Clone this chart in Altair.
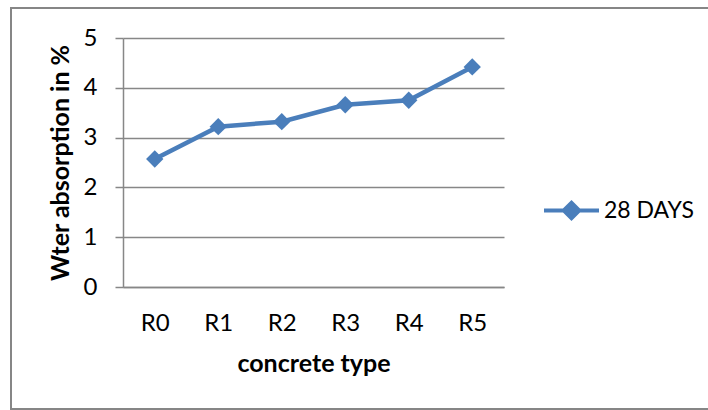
import altair as alt
import pandas as pd

# Water absorption (%) at 28 days for each concrete mix
concrete_types = ["R0", "R1", "R2", "R3", "R4", "R5"]
absorption_28d = [2.57, 3.22, 3.32, 3.66, 3.75, 4.42]
series_name = "28 DAYS"

df = pd.DataFrame({
    "type": concrete_types,
    "absorption": absorption_28d,
    "series": [series_name] * len(concrete_types),
})

BLUE = "#4a7ebb"
GRID = "#878787"
FONT = "Lato"

W, H = 381, 249

# legend glyph: a short line with a diamond in its middle
legend_symbol = "M-1,0H1M-0.28,0L0,-0.28L0.28,0L0,0.28Z"

base = alt.Chart(df).encode(
    x=alt.X(
        "type:N",
        sort=concrete_types,
        scale=alt.Scale(paddingInner=0, paddingOuter=0),
        axis=alt.Axis(
            title="concrete type",
            labelAngle=0,
            ticks=False,
            grid=False,
            domainColor=GRID,
            domainWidth=1.5,
            labelPadding=24,
            titlePadding=16,
        ),
    ),
    y=alt.Y(
        "absorption:Q",
        scale=alt.Scale(domain=[0, 5], nice=False),
        axis=alt.Axis(
            title="Wter absorption in %",
            values=[0, 1, 2, 3, 4, 5],
            format="d",
            tickSize=8,
            tickColor=GRID,
            tickWidth=1.5,
            domainColor=GRID,
            domainWidth=1.5,
            gridColor=GRID,
            gridWidth=1.5,
            labelPadding=18,
            titlePadding=10,
        ),
    ),
    color=alt.Color(
        "series:N",
        scale=alt.Scale(range=[BLUE]),
        legend=alt.Legend(
            title=None,
            orient="none",
            legendX=419,
            legendY=143,
            symbolType=legend_symbol,
            symbolSize=3025,
            symbolStrokeWidth=4,
            symbolFillColor=BLUE,
            symbolStrokeColor=BLUE,
            symbolOpacity=1,
            labelFontSize=23,
            labelFont=FONT,
            labelColor="#000000",
            labelOffset=3,
        ),
    ),
)

line = base.mark_line(strokeWidth=4.5)
points = base.mark_point(shape="diamond", filled=True, size=300, opacity=1)

# outer chart frame
frame = alt.Chart(df).mark_rect(
    fill=None, stroke=GRID, strokeWidth=1.5
).encode(
    x=alt.value(-112), x2=alt.value(600),
    y=alt.value(-30), y2=alt.value(371),
)

chart = alt.layer(frame, line, points).properties(
    width=W,
    height=H,
    padding={"left": 123, "top": 38, "right": 708 - 123 - W, "bottom": 410 - 38 - H},
    autosize=alt.AutoSizeParams(type="none"),
    background="white",
).configure_view(stroke=None).configure_axis(
    labelFont=FONT,
    labelFontSize=24,
    labelColor="#000000",
    titleFont=FONT,
    titleFontSize=25,
    titleFontWeight="bold",
    titleColor="#000000",
)

chart.save("out.html", embed_options={"renderer": "svg", "actions": False})
